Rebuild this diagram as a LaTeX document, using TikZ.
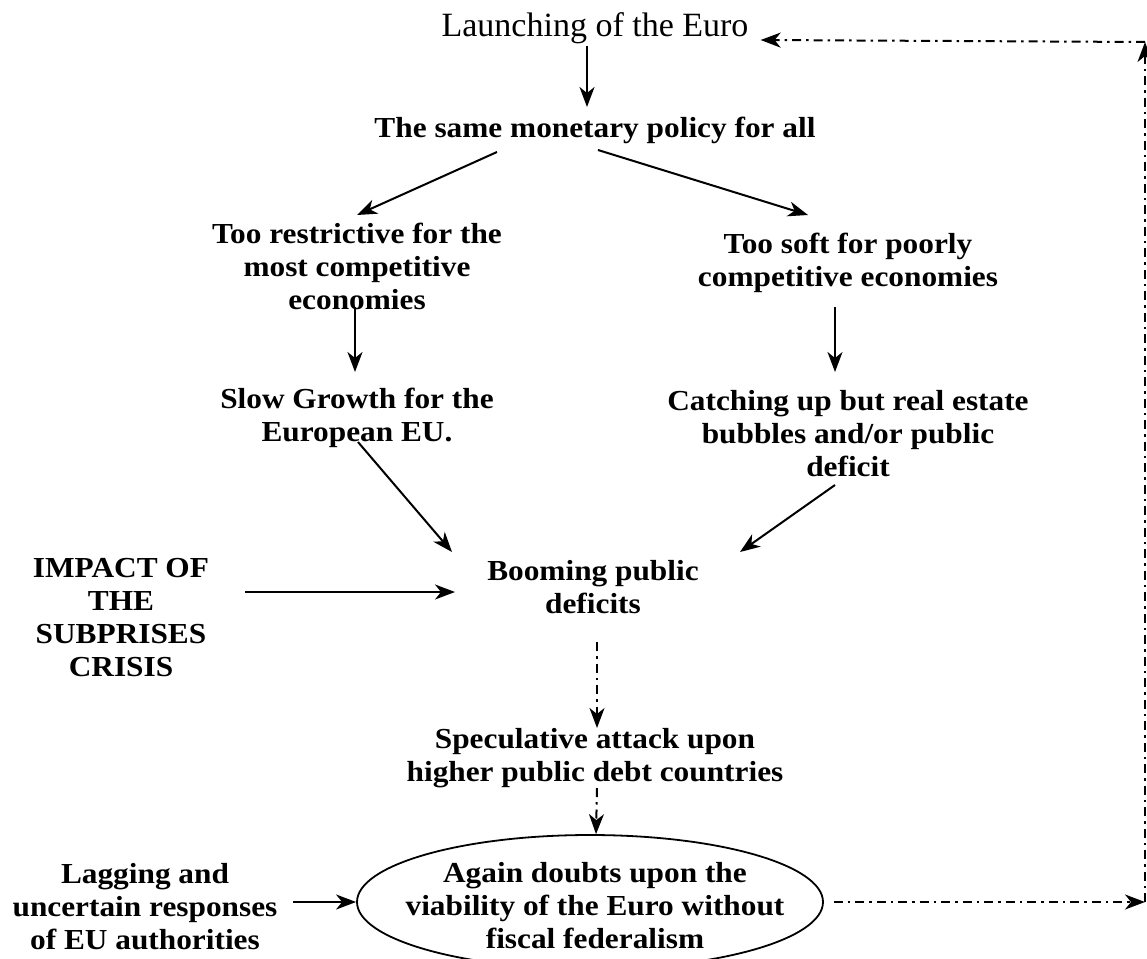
\documentclass[tikz,border=0pt]{standalone}
\usepackage{fontspec}
\setmainfont{Liberation Serif}
\newfontfamily\gar{Liberation Serif}[FakeStretch=1.08]
\usetikzlibrary{arrows.meta,calc,shapes.geometric}
\tikzset{
  txt/.style={font=\gar\bfseries\fontsize{29}{33}\selectfont, align=center, inner sep=0pt},
  toptxt/.style={font=\fontsize{34}{40}\selectfont, inner sep=0pt},
  arr/.style={-{Stealth[length=20pt,width=15pt,inset=6pt]}, line width=2pt},
  darr/.style={arr, dash pattern=on 9pt off 5pt on 2.5pt off 5pt},
}
\begin{document}
\begin{tikzpicture}[x=1pt,y=-1pt]
\useasboundingbox (0,0) rectangle (1147,958);
\node[toptxt] (launch) at (595,28) {Launching of the Euro};
\node[txt] (same) at (595,130) {The same monetary policy for all};
\node[txt] (restr) at (357,266) {Too restrictive for the\\most competitive\\economies};
\node[txt] (soft) at (848,263) {Too soft for poorly\\competitive economies};
\node[txt] (slow) at (357,418) {Slow Growth for the\\European EU.};
\node[txt] (catch) at (848,434) {Catching up but real estate\\bubbles and/or public\\deficit};
\node[txt] (boom) at (593,587) {Booming public\\deficits};
\node[txt] (impact) at (121,618) {IMPACT OF\\THE\\SUBPRISES\\CRISIS};
\node[txt] (spec) at (595,758) {Speculative attack upon\\higher public debt countries};
\node[ellipse, draw, line width=1.8pt, minimum width=466pt, minimum height=134pt, inner sep=0pt] (doubt) at (590,902) {};
\node[txt] (doubttxt) at (595,906) {Again doubts upon the\\viability of the Euro without\\fiscal federalism};
\node[txt] (lag) at (145,907) {Lagging and\\uncertain responses\\of EU authorities};
\coordinate (br) at (1145,902);
\coordinate (tr) at (1145,42);

\draw[arr] ($(launch)+(-8,18)$) -- ($(same)+(-8,-23)$);
\draw[arr] ($(same)+(-98,22)$) -- ($(restr)+(0,-51)$);
\draw[arr] ($(same)+(3,20)$) -- ($(soft)+(-40,-48)$);
\draw[arr] ($(restr)+(-2,41)$) -- ($(slow)+(-2,-46)$);
\draw[arr] ($(soft)+(-13,44)$) -- ($(catch)+(-13,-62)$);
\draw[arr] ($(slow)+(1,24)$) -- ($(boom)+(-141,-35)$);
\draw[arr] ($(catch)+(-13,51)$) -- ($(boom)+(147,-35)$);
\draw[arr] ($(impact)+(124,-26)$) -- ($(boom)+(-138,5)$);
\draw[darr] ($(boom)+(4,55)$) -- ($(spec)+(2,-30)$);
\draw[darr] ($(spec)+(2,30)$) -- ($(doubt.north)+(6,0)$);
\draw[arr] ($(lag)+(148,-5)$) -- (doubt.west);
\draw[darr, shorten <=10pt] (doubt.east) -- (br);
\draw[darr] (br) -- (tr);
\draw[darr] (tr) -- ($(launch.east)+(12,12)$);
\end{tikzpicture}
\end{document}
